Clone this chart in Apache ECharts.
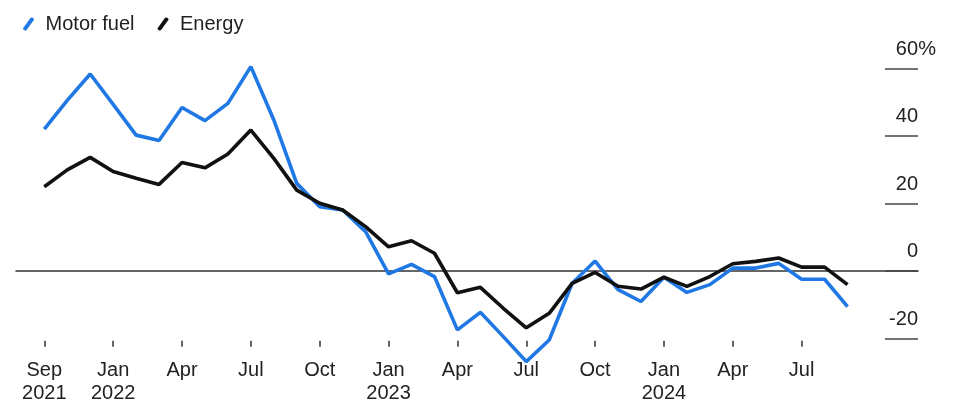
<!DOCTYPE html>
<html>
<head>
<meta charset="utf-8">
<style>
  html, body { margin: 0; padding: 0; background: #fff; }
  #chart { width: 954px; height: 406px; }
</style>
<script src="https://cdn.jsdelivr.net/npm/echarts@6/dist/echarts.min.js"></script>
</head>
<body>
<div id="chart"></div>
<script>
// Monthly periods on the horizontal axis
const months = [
  'Oct 2021','Nov 2021','Dec 2021','Jan 2022','Feb 2022','Mar 2022','Apr 2022','May 2022','Jun 2022',
  'Jul 2022','Aug 2022','Sep 2022','Oct 2022','Nov 2022','Dec 2022','Jan 2023','Feb 2023','Mar 2023',
  'Apr 2023','May 2023','Jun 2023','Jul 2023','Aug 2023','Sep 2023','Oct 2023','Nov 2023','Dec 2023',
  'Jan 2024','Feb 2024','Mar 2024','Apr 2024','May 2024','Jun 2024','Jul 2024','Aug 2024','Sep 2024'
];

// Labels shown under the axis ticks (by period index)
const tickLabels = {
  0: 'Sep\n2021', 3: 'Jan\n2022', 6: 'Apr', 9: 'Jul', 12: 'Oct',
  15: 'Jan\n2023', 18: 'Apr', 21: 'Jul', 24: 'Oct',
  27: 'Jan\n2024', 30: 'Apr', 33: 'Jul'
};

// Year-over-year change, %
const motorFuel = [
  42.0, 50.5, 58.3, 49.3, 40.2, 38.6, 48.4, 44.5, 49.6, 60.5, 44.7, 25.9,
  19.0, 18.0, 11.6, -0.9, 1.9, -1.7, -17.5, -12.3, -19.5, -26.9, -20.5, -3.7,
  2.9, -5.6, -9.1, -1.9, -6.4, -4.1, 0.8, 0.8, 2.2, -2.5, -2.5, -10.6
];
const energy = [
  24.9, 29.9, 33.6, 29.4, 27.4, 25.6, 32.1, 30.5, 34.6, 41.7, 33.3, 23.9,
  20.0, 18.0, 13.1, 7.1, 8.9, 5.2, -6.5, -4.9, -11.1, -16.9, -12.6, -3.7,
  -0.5, -4.6, -5.4, -1.9, -4.6, -1.7, 2.1, 2.8, 3.8, 1.1, 1.1, -4.1
];

// Value axis ticks
const yTicks = { min: -20, max: 60, step: 20 };

const FONT = 'Liberation Sans, Arial, Helvetica, sans-serif';
const BLUE = '#1f78e4';
const BLACK = '#111111';
// slanted stroke used as the legend key
const SLASH = 'path://M0,10.6 L7,0.8 Q7.8,-0.2 9,0.2 L10.2,0.8 Q11.2,1.6 10.6,2.6 L3.6,12.2 Q2.8,13.2 1.6,12.8 L0.6,12.2 Q-0.4,11.6 0,10.6 Z';

const chart = echarts.init(document.getElementById('chart'), null, { renderer: 'canvas' });

const hasLabel = (i) => tickLabels[i] !== undefined;

chart.setOption({
  animation: false,
  backgroundColor: '#ffffff',
  textStyle: { fontFamily: FONT },
  legend: {
    left: 18,
    top: 9,
    itemWidth: 12,
    itemHeight: 13,
    itemGap: 23,
    icon: SLASH,
    textStyle: { fontFamily: FONT, fontSize: 20, color: '#222', padding: [0, 0, 0, 6] },
    data: ['Motor fuel', 'Energy']
  },
  grid: [
    // plotting area for the two lines
    { left: 44.3, right: 106.45, top: 68.3, bottom: 67.7 },
    // wider frame carrying the zero line and the value-axis ticks
    { left: 16, right: 36, top: 68.3, bottom: 67.7 }
  ],
  xAxis: [
    {
      type: 'category',
      gridIndex: 0,
      data: months,
      boundaryGap: false,
      offset: 2.4,
      axisLine: { show: false, onZero: false },
      axisTick: {
        show: true,
        length: 6,
        interval: (i) => hasLabel(i),
        lineStyle: { color: '#333', width: 1.5 }
      },
      axisLabel: {
        interval: (i) => hasLabel(i),
        formatter: (v, i) => tickLabels[i] || '',
        margin: 18,
        fontFamily: FONT,
        fontSize: 20,
        lineHeight: 23,
        color: '#222'
      },
      splitLine: { show: false }
    },
    {
      type: 'value',
      gridIndex: 1,
      min: 0,
      max: 1,
      axisLine: { show: true, onZero: true, lineStyle: { color: '#333', width: 1.5 } },
      axisTick: { show: false },
      axisLabel: { show: false },
      splitLine: { show: false }
    }
  ],
  yAxis: [
    {
      type: 'value',
      gridIndex: 0,
      min: yTicks.min,
      max: yTicks.max,
      interval: yTicks.step,
      show: false
    },
    {
      type: 'value',
      gridIndex: 1,
      position: 'right',
      min: yTicks.min,
      max: yTicks.max,
      interval: yTicks.step,
      axisLine: { show: false, onZero: false },
      axisTick: { show: true, inside: true, length: 33, lineStyle: { color: '#444', width: 1.6 } },
      splitLine: { show: false },
      axisLabel: {
        inside: true,
        margin: -18,
        verticalAlign: 'middle',
        padding: [0, 0, 38, 0],
        fontFamily: FONT,
        fontSize: 20,
        color: '#222',
        formatter: (v) => v === yTicks.max ? v + '{p|%}' : v + '{s| }',
        rich: {
          p: { fontFamily: FONT, fontSize: 20, color: '#222', width: 18 },
          s: { fontFamily: FONT, fontSize: 20, width: 18 }
        }
      }
    }
  ],
  series: [
    {
      name: 'Motor fuel',
      type: 'line',
      xAxisIndex: 0,
      yAxisIndex: 0,
      data: motorFuel,
      showSymbol: false,
      clip: false,
      color: BLUE,
      lineStyle: { color: BLUE, width: 3.6 },
      z: 3
    },
    {
      name: 'Energy',
      type: 'line',
      xAxisIndex: 0,
      yAxisIndex: 0,
      data: energy,
      showSymbol: false,
      clip: false,
      color: BLACK,
      lineStyle: { color: BLACK, width: 3.6 },
      z: 4
    }
  ]
});
</script>
</body>
</html>
